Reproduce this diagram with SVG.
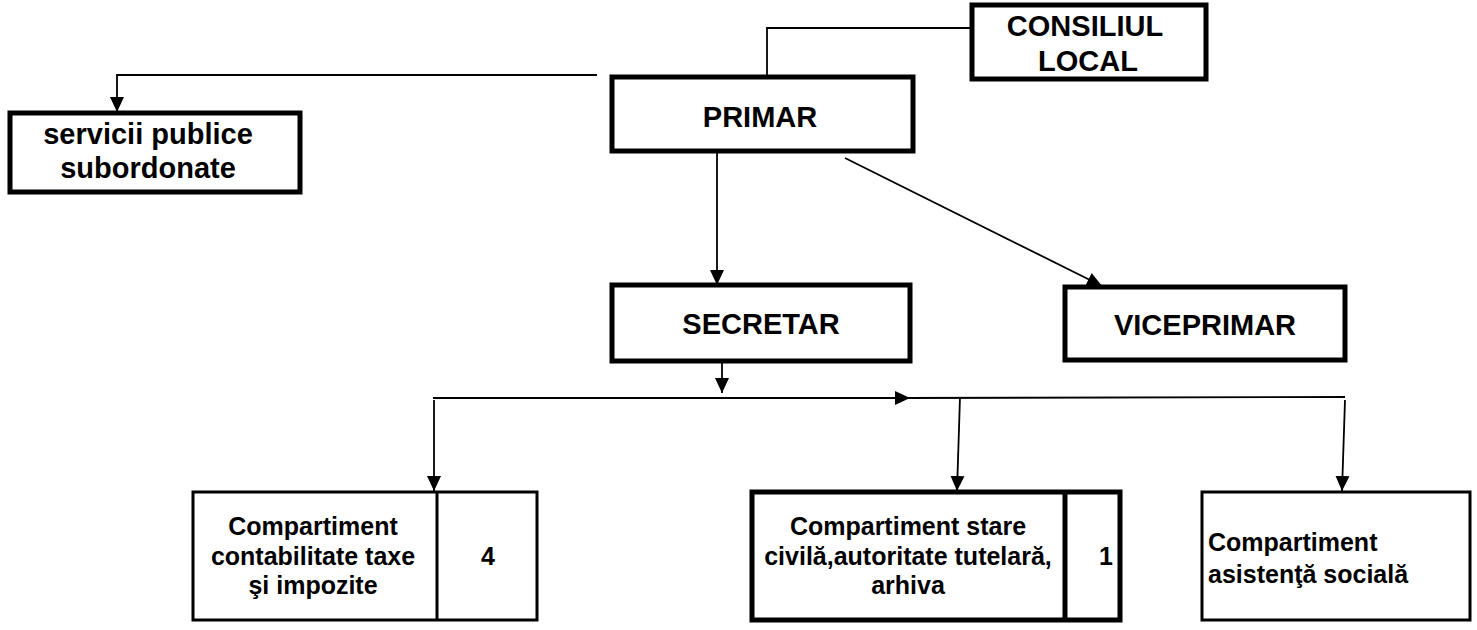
<svg xmlns="http://www.w3.org/2000/svg" width="1477" height="630" viewBox="0 0 1477 630">
<style>
.box{fill:#fff;stroke:#000;stroke-width:5}
.thin{fill:#fff;stroke:#000;stroke-width:3}
.t{font-family:"Liberation Sans",Arial,sans-serif;font-weight:bold;fill:#000;text-anchor:middle}
.big{font-size:29px}
.mid{font-size:29px}
.sm{font-size:25px}
.c{fill:none;stroke:#000;stroke-width:1.8}
</style>
<defs>
<marker id="ah" markerUnits="userSpaceOnUse" markerWidth="16" markerHeight="16" viewBox="0 0 16 16" refX="15" refY="8" orient="auto">
<path d="M0,1 L15,8 L0,15 z" fill="#000"/>
</marker>
</defs>
<rect width="1477" height="630" fill="#fff"/>
<g id="connectors">
<polyline class="c" points="972,28 767,28 767,77"/>
<polyline class="c" points="597,75 117,75 117,112" marker-end="url(#ah)"/>
<line class="c" x1="717" y1="150" x2="717" y2="285" marker-end="url(#ah)"/>
<line class="c" x1="845" y1="158" x2="1102" y2="286" marker-end="url(#ah)"/>
<line class="c" x1="722" y1="361" x2="722" y2="393" marker-end="url(#ah)"/>
<line class="c" x1="433" y1="398" x2="910" y2="398" marker-end="url(#ah)"/>
<line class="c" x1="906" y1="398" x2="1345" y2="397"/>
<line class="c" x1="434" y1="400" x2="434" y2="491" marker-end="url(#ah)"/>
<line class="c" x1="960" y1="397" x2="957" y2="491" marker-end="url(#ah)"/>
<line class="c" x1="1345" y1="400" x2="1342" y2="491" marker-end="url(#ah)"/>
</g>
<g id="consiliul">
<rect class="box" x="972" y="5" width="234" height="74"/>
<text class="t big" x="1085" y="36">CONSILIUL</text>
<text class="t big" x="1088" y="71">LOCAL</text>
</g>
<g id="primar">
<rect class="box" x="612" y="77" width="301" height="74"/>
<text class="t big" x="760" y="127">PRIMAR</text>
</g>
<g id="servicii">
<rect class="box" x="10" y="113" width="290" height="79"/>
<text class="t mid" x="148" y="144">servicii publice</text>
<text class="t mid" x="148" y="178">subordonate</text>
</g>
<g id="secretar">
<rect class="box" x="612" y="285" width="298" height="76"/>
<text class="t big" x="761" y="334">SECRETAR</text>
</g>
<g id="viceprimar">
<rect class="box" x="1065" y="287" width="280" height="73"/>
<text class="t big" x="1205" y="335">VICEPRIMAR</text>
</g>
<g id="contabilitate">
<rect class="thin" x="193" y="492" width="344" height="128"/>
<line x1="437" y1="492" x2="437" y2="620" stroke="#000" stroke-width="3"/>
<text class="t sm" x="313" y="535">Compartiment</text>
<text class="t sm" x="313" y="565">contabilitate taxe</text>
<text class="t sm" x="313" y="594">şi impozite</text>
<text class="t sm" x="488" y="565">4</text>
</g>
<g id="stare-civila">
<rect class="box" x="752" y="492" width="368" height="128"/>
<line x1="1065" y1="492" x2="1065" y2="620" stroke="#000" stroke-width="5"/>
<text class="t sm" x="908" y="535">Compartiment stare</text>
<text class="t sm" x="908" y="565">civilă,autoritate tutelară,</text>
<text class="t sm" x="908" y="594">arhiva</text>
<text class="t sm" x="1113" y="565" style="text-anchor:end">1</text>
</g>
<g id="asistenta">
<rect class="thin" x="1202" y="492" width="268" height="128"/>
<text class="t sm" x="1208" y="551" style="text-anchor:start">Compartiment</text>
<text class="t sm" x="1208" y="583" style="text-anchor:start">asistenţă socială</text>
</g>
</svg>
